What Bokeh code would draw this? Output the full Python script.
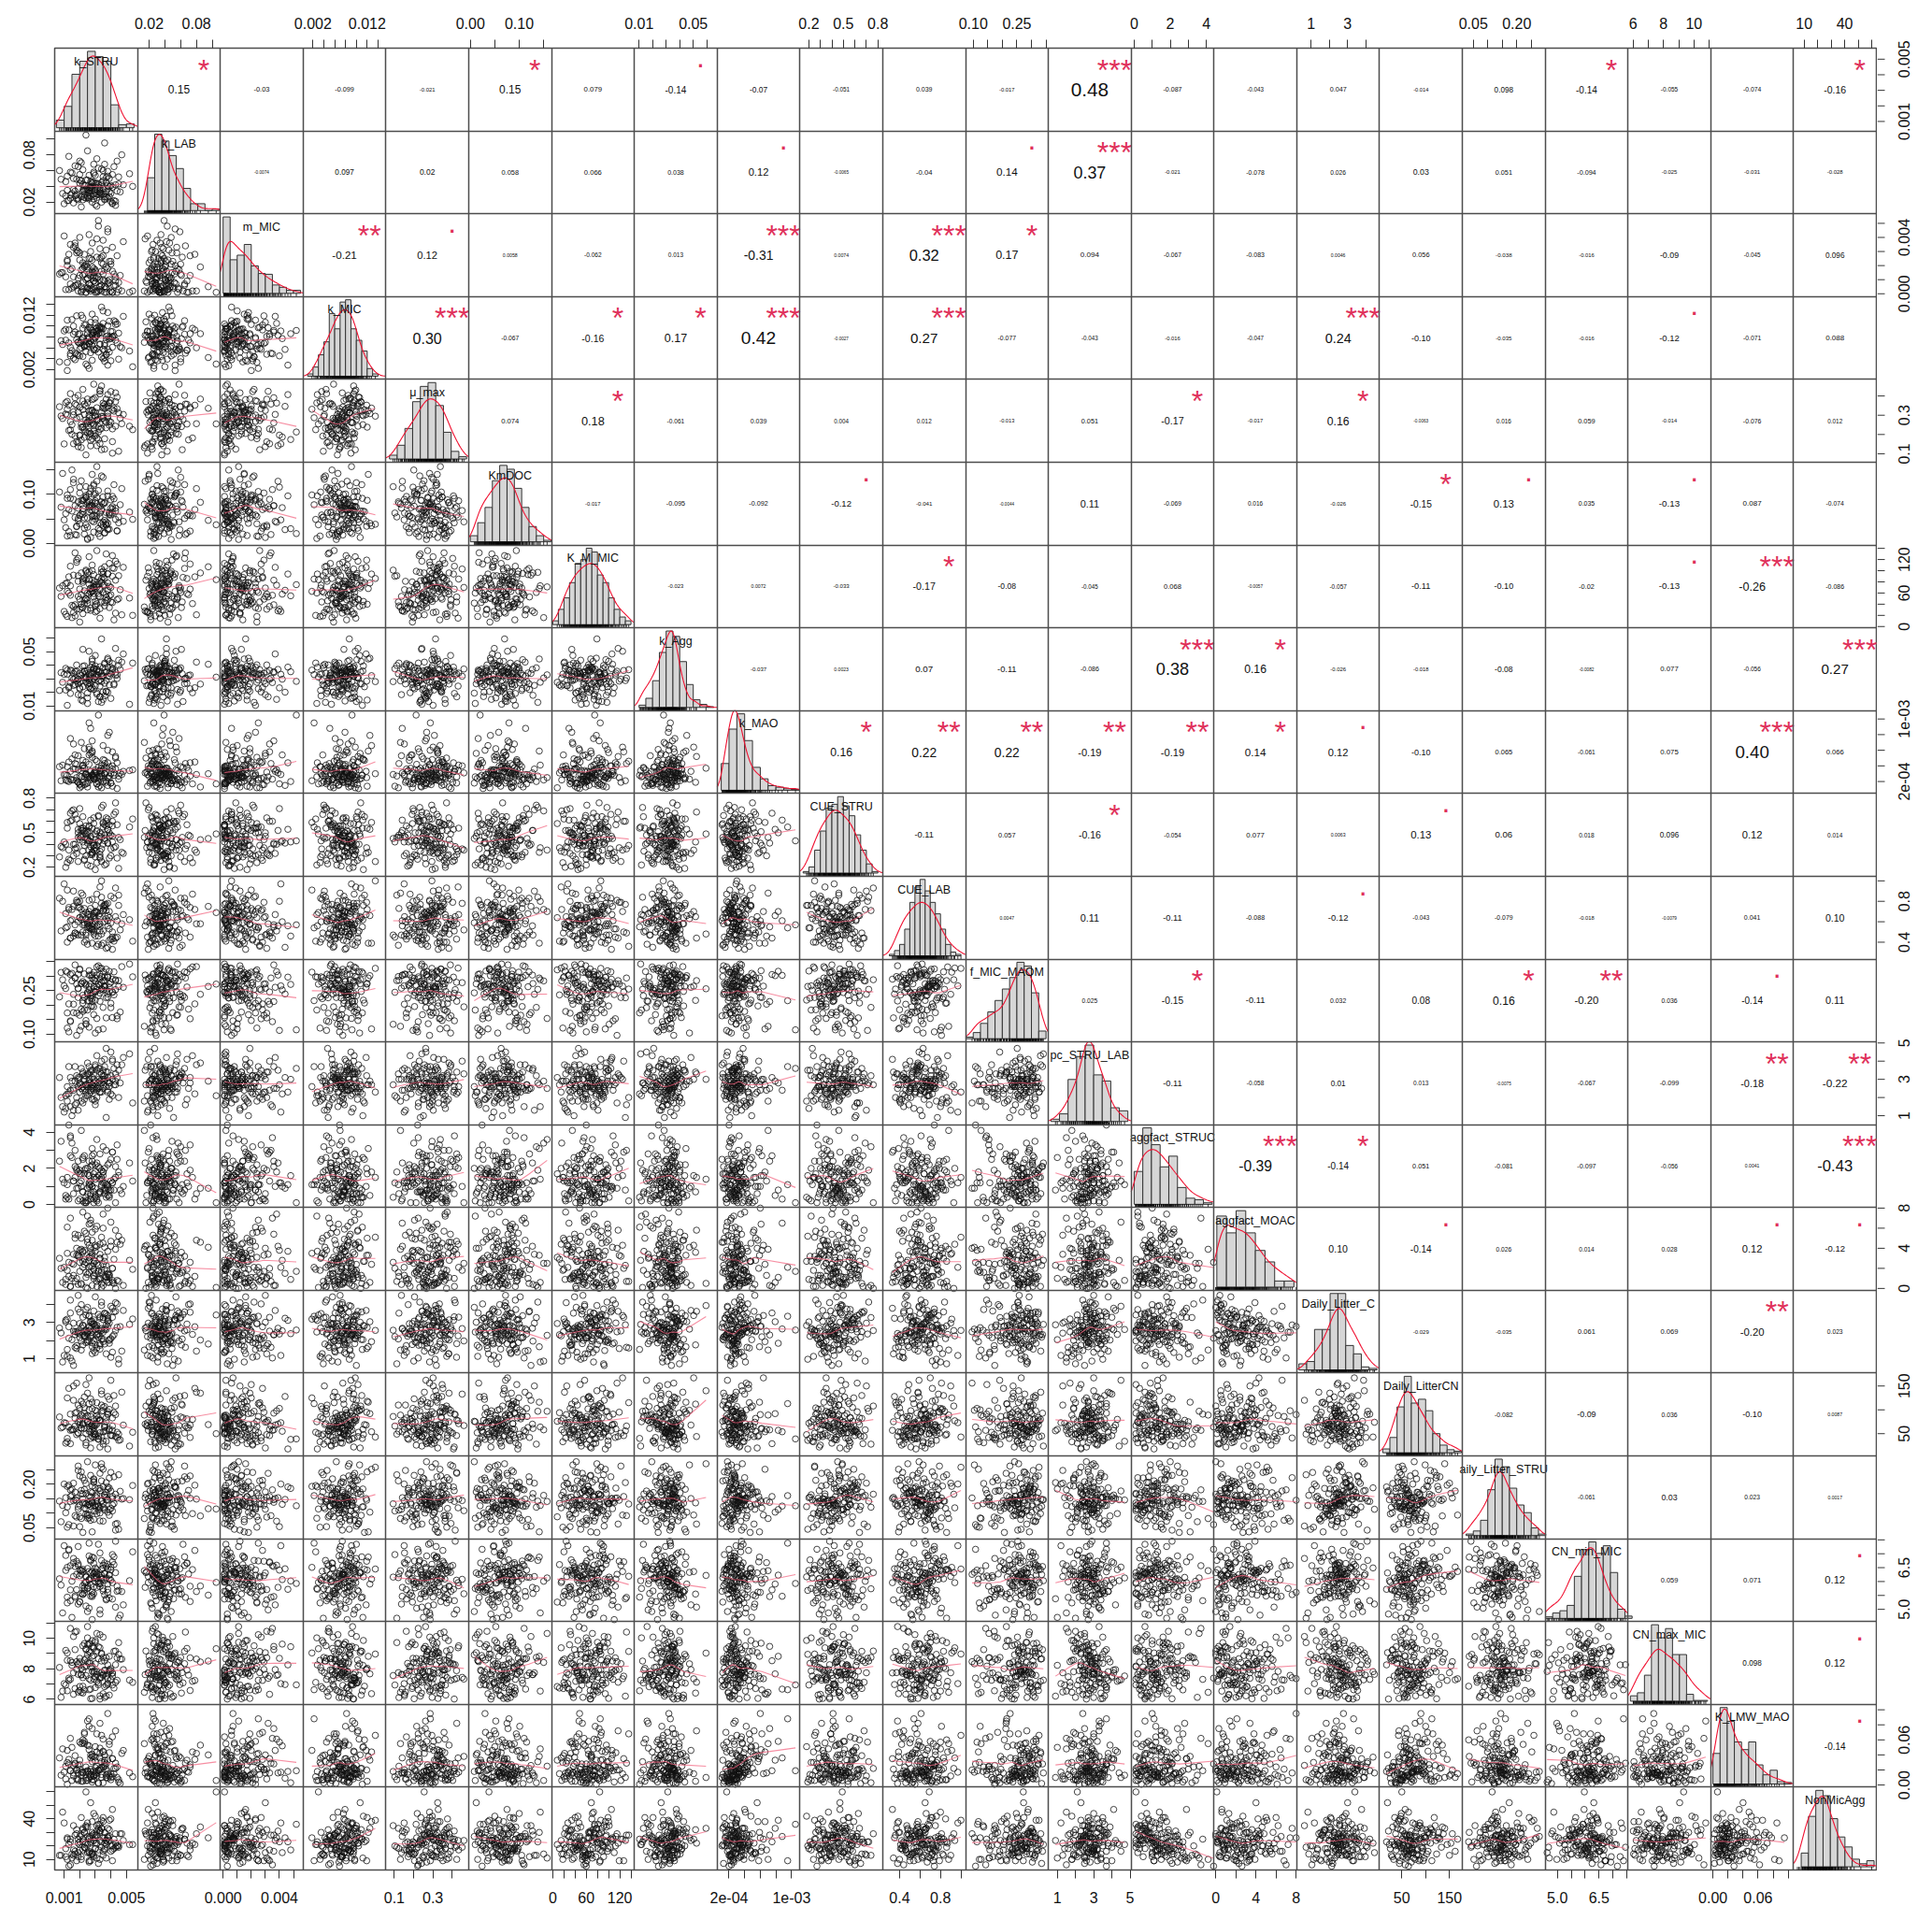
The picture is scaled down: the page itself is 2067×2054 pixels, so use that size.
import numpy as np
from bokeh.plotting import figure
from bokeh.layouts import row
from bokeh.models import Range1d, LinearAxis, FixedTicker, Grid, ColumnDataSource
from bokeh.core.properties import value
from bokeh.embed import file_html
from bokeh.resources import INLINE

NAMES = ["k_STRU","k_LAB","m_MIC","k_MIC","μ_max","KmDOC","K_M_MIC","k_Agg","k_MAO","CUE_STRU","CUE_LAB","f_MIC_MAOM",
         "pc_STRU_LAB","aggfact_STRUC","aggfact_MOAC","Daily_Litter_C","Daily_LitterCN","aily_Litter_STRU","CN_min_MIC","CN_max_MIC","K_LMW_MAO","NonMicAgg"]
# axis limits of each variable
LIMS = [(.00039,.00571),(.0053,.1102),(-.0002,.00568),(.00017,.01545),(.0563,.486),(-.0034,.166),(-2.3,146),(.0065,.0676),(.475e-4,11.07e-4),
        (.122,.842),(.235,1.045),(.0736,.358),(.506,5.06),(-.166,4.42),(-.186,8.06),(.206,4.77),(3.3,177),(.0123,.298),(4.56,7.54),(5.67,11.1),(-.0029,.1072),(2.15,63.5)]
TICKS = [[.001,.002,.003,.004,.005],[.02,.04,.06,.08,.10],[0,.001,.002,.003,.004,.005],[.002,.004,.006,.008,.010,.012,.014],[.1,.2,.3,.4],[0,.05,.10,.15],
         [0,20,40,60,80,100,120,140],[.01,.02,.03,.04,.05,.06],[2e-4,4e-4,6e-4,8e-4,1e-3],[.2,.3,.4,.5,.6,.7,.8],[.4,.6,.8,1.0],[.10,.15,.20,.25,.30,.35],
         [1,2,3,4,5],[0,1,2,3,4],[0,2,4,6,8],[1,2,3,4],[50,100,150],[.05,.10,.15,.20,.25],[5,5.5,6,6.5,7,7.5],[6,7,8,9,10,11],[0,.02,.04,.06,.08,.10],[10,20,30,40,50,60]]
TICKLABELS = [{.001:"0.001",.005:"0.005"},{.02:"0.02",.08:"0.08"},{0:"0.000",.004:"0.004"},{.002:"0.002",.012:"0.012"},{.1:"0.1",.3:"0.3"},{0:"0.00",.10:"0.10"},
              {0:"0",60:"60",120:"120"},{.01:"0.01",.05:"0.05"},{2e-4:"2e-04",1e-3:"1e-03"},{.2:"0.2",.5:"0.5",.8:"0.8"},{.4:"0.4",.8:"0.8"},{.10:"0.10",.25:"0.25"},
              {1:"1",3:"3",5:"5"},{0:"0",2:"2",4:"4"},{0:"0",4:"4",8:"8"},{1:"1",3:"3"},{50:"50",150:"150"},{.05:"0.05",.20:"0.20"},{5:"5.0",6.5:"6.5"},{6:"6",8:"8",10:"10"},{0:"0.00",.06:"0.06"},{10:"10",40:"40"}]
# histogram: first break, bin width, bar heights (share of the tallest bar)
H_START = [.0005,.018,0,.001,.075,0,0,.01,1e-4,.15,.3,.075,.65,0,.1,.325,10,.025,4.57,5.83,0,7.8]
H_WIDTH = [.0005,.0091,.0005,.001,.04,.015,10,.005,1e-4,.05,.05,.025,.47,.48,.96,.43,15,.025,.26,.46,.0095,5.4]
H_0 = [.1,.28,.7,.87,1,.93,.87,.3,.04,.05]
H_1 = [.43,1,.91,.72,.55,.29,.09,.09,0,.02]
H_2 = [1,.44,.5,.64,.36,.26,.25,.11,.08,.04,.04]
H_3 = [.03,.12,.28,.45,.82,.62,.97,1,.62,.47,.33,.1,.03]
H_4 = [.05,.18,.4,.75,.95,1,.7,.35,.1,.03]
H_5 = [.08,.25,.45,.8,1,.95,.7,.45,.2,.08,.02]
H_6 = [.05,.2,.35,.55,.8,.85,1,.95,.65,.55,.35,.2,.1,.05]
H_7 = [.03,.12,.35,.72,1,.93,.6,.3,.1,.04,.01]
H_8 = [.35,.8,1,.65,.3,.15,.06,.04,.02,.01]
H_9 = [.02,.08,.3,.55,.85,.9,1,.88,.75,.5,.3,.12,.02]
H_10 = [.02,.07,.15,.35,.7,.9,1,.85,.7,.55,.35,.15,.05,.02]
H_11 = [.02,.08,.2,.35,.5,.65,.8,1,.95,.6,.1]
H_12 = [.03,.1,.55,.85,1,.61,.53,.18,.14]
H_13 = [.43,1,.78,.49,.63,.22,.08,.06,.02]
H_14 = [.93,.71,1,.71,.48,.33,.08,.08]
H_15 = [.08,.11,.53,.53,1,1,.32,.21,.04,.02]
H_16 = [.05,.2,.6,1,.65,.7,.55,.25,.1,.04,.02]
H_17 = [.02,.06,.2,.6,1,.9,.62,.4,.3,.1,.02]
H_18 = [.02,.07,.1,.17,.55,.9,1,.85,.95,.6,.12,.03]
H_19 = [.07,.11,.34,1,.83,.95,.61,.61,.09,.01,.01]
H_20 = [.4,1,.82,.55,.45,.55,.25,.12,.18,.03,.02]
H_21 = [.18,.66,1,.93,.63,.39,.26,.1,.04,.08]
HISTS = [H_0,H_1,H_2,H_3,H_4,H_5,H_6,H_7,H_8,H_9,H_10,H_11,H_12,H_13,H_14,H_15,H_16,H_17,H_18,H_19,H_20,H_21]

# samples, each list in the unit given in UNITS
K_STRU = [27,35,18,42,23,31,12,38,26,29,21,44,33,16,28,37,24,30,9,41,25,34,19,47,22,32,14,39,27,36,20,43,28,31,11,35,23,40,17,29,33,26,45,24,15,38,30,22,34,8,27,41,19,36,25,13,32,48,21,29,37,16,28,42,24,33,18,30,39,26,10,35,22,44,31,20,27,38,14,34,25,40,17,29,52,23,36,28,12,32,43,21,30,19,37,26,33,7,41,24,35,15,28,39,22,31,46,18,27,34,13,38,25,30,20,43,29,36,16,23,32,40,26,11,35,21,28,37,17,33,24,45,30,14,27,39,22,34,19,31,54,25,36,12,29,41,20,33,26,38]
K_LAB = [38,52,24,65,30,44,22,41,35,58,27,72,36,19,46,33,48,28,31,55,26,62,37,80,23,43,29,50,34,68,
55,42,37,15,28,47,41,21,66,24,34,26,52,36,31,59,44,33,20,49,28,39,65,23,36,78,30,42,14,45,
27,50,35,22,105,38,29,54,40,32,18,60,43,34,26,72,46,37,25,31,48,41,28,30,56,35,24,44,53,39,
21,47,39,25,45,54,32,60,18,41,30,57,40,27,35,75,33,49,38,42,22,53,28,35,44,16,56,95,36,26,
63,31,24,46,37,70,20,51,34,29,25,43,17,58,39,33,61,45,23,30,40,85,27,35,68,19,48,32,38,25]
M_MIC = [2,14,31,6,19,1,24,9,42,3,17,27,5,12,36,1,21,8,15,33,4,26,11,2,18,48,7,23,13,1,29,6,16,39,3,10,20,2,34,13,5,25,8,1,18,44,11,3,22,15,30,1,7,17,4,28,12,37,2,9,19,5,24,14,1,32,6,16,10,3,41,21,8,1,26,13,4,18,35,2,11,23,6,15,1,28,9,3,20,52,12,5,17,2,31,7,25,14,1,10,38,4,19,8,22,2,13,29,6,16,3,46,11,1,24,9,18,5,33,14,2,21,7,12,27,1,15,4,36,10,20,3,8,17,25,1,13,6,30,11,2,19,5,23,9,16,40,3,14,7]
K_MIC = [72,95,48,110,63,84,33,101,77,58,120,69,88,41,92,75,53,106,66,81,27,98,71,60,115,86,45,79,94,55,68,103,37,83,74,128,62,90,50,76,99,22,87,65,112,57,80,96,43,73,107,61,85,35,78,93,52,118,70,89,47,100,64,82,30,97,75,56,109,67,91,40,79,104,59,86,72,125,49,95,63,77,38,88,54,102,68,83,18,92,74,60,113,46,81,98,66,34,90,71,105,55,84,76,44,96,62,119,51,87,69,28,93,78,58,108,73,42,85,65,100,36,80,94,57,74,122,48,89,67,103,39,83,61,97,52,77,135,70,91,25,86,64,111,56,79,45,95,68,82]
MU_MAX = [253,348,162,321,224,276,372,295,187,461,238,334,153,302,261,343,214,392,283,229,364,121,317,256,329,174,412,268,203,357,
291,243,381,142,306,337,185,264,358,219,431,287,312,94,251,346,193,374,232,296,325,163,403,272,208,352,241,304,132,385,
263,318,178,336,255,424,283,205,367,322,151,294,236,394,273,341,169,308,224,452,267,376,192,315,243,358,124,286,331,213,
416,254,297,158,383,301,227,344,103,276,363,201,327,248,434,182,285,352,141,314,221,407,262,293,194,371,246,336,152,304,
278,423,216,365,284,172,323,235,391,259,348,113,316,267,205,362,241,295,137,339,225,384,178,301,254,328,197,411,268,286]
KM_DOC = [68,95,34,120,52,81,15,107,73,44,88,25,62,131,77,39,98,56,143,70,10,85,47,112,65,30,92,58,76,21,103,49,83,127,61,36,90,72,18,100,54,79,42,116,66,28,87,59,138,74,12,96,51,84,33,69,108,45,80,23,63,124,55,91,38,75,17,102,60,86,48,135,71,26,94,57,78,41,110,67,8,89,53,118,64,31,82,46,99,20,72,128,50,85,37,76,14,105,62,93,43,150,68,29,87,56,79,35,113,70,24,97,52,83,40,66,121,47,90,19,74,58,101,32,81,60,141,44,77,27,95,54,69,16,106,63,88,39,72,157,49,84,22,92,57,75,115,42,65,30]
K_M_MIC = [62,88,31,104,47,75,18,95,58,70,40,112,66,25,83,52,99,36,73,127,60,44,91,21,79,55,108,34,68,86,49,117,63,28,77,94,41,57,132,71,15,85,50,101,38,65,80,23,97,54,69,43,122,74,30,89,59,106,35,76,46,92,64,12,84,53,115,39,72,98,27,61,82,48,136,67,33,78,56,103,42,70,19,93,51,87,37,110,63,75,24,96,45,81,58,125,32,69,90,50,74,16,100,55,85,41,66,119,29,79,60,94,47,72,8,83,53,107,36,64,88,44,76,22,99,57,68,130,39,81,49,91,26,73,61,113,34,86,54,71,20,96,43,78,59,105,31,67,84,48]
K_AGG = [228,317,402,263,355,186,334,441,297,372,143,328,389,251,346,206,308,472,274,361,118,337,295,423,241,352,192,316,383,267,
341,524,288,369,217,323,396,155,305,378,246,331,437,279,358,201,314,392,126,345,263,412,297,174,362,234,326,483,285,371,
208,339,403,254,312,167,356,294,428,241,333,381,136,302,367,226,348,452,272,319,194,385,258,343,112,309,416,236,364,281,
327,178,395,262,351,503,291,214,374,337,148,306,429,255,342,197,368,283,321,594,243,386,159,315,274,349,221,407,296,358,
132,336,268,377,203,324,446,287,353,169,311,398,248,364,226,342,517,279,183,329,416,261,347,104,302,375,233,356,288,320]
K_MAO = [33,48,21,28,62,17,39,25,54,31,14,44,27,36,72,19,30,23,41,58,26,12,35,29,47,20,33,83,24,38,16,52,28,31,22,66,37,18,43,26,34,95,23,29,49,15,32,40,27,21,56,36,19,30,25,45,13,33,70,28,38,22,51,31,17,26,42,35,24,61,29,20,37,11,46,27,33,79,23,40,18,30,54,25,34,16,43,28,21,105,36,26,48,19,32,64,24,39,14,29,35,22,57,27,41,17,31,25,88,37,20,44,28,33,12,50,23,30,68,26,38,18,42,29,24,34,59,21,36,15,45,27,32,75,22,39,19,30,53,25,35,13,47,28,23,40,17,33,26,60]
CUE_STRU = [45,58,32,66,39,51,24,62,43,35,54,28,47,70,41,56,30,49,37,60,22,46,53,33,64,42,26,50,38,57,44,68,31,52,40,59,27,48,36,63,34,55,19,45,61,41,29,52,72,38,47,56,25,43,50,35,65,32,46,58,23,40,54,37,49,31,62,44,28,51,42,74,34,57,39,47,21,53,60,36,45,30,66,41,55,26,48,33,59,43,38,52,18,46,63,35,50,29,42,56,40,69,32,47,54,24,44,37,61,49,27,53,41,34,58,76,39,45,30,51,64,36,43,20,55,48,33,60,40,28,52,46,37,67,31,57,42,25,50,35,62,44,22,54,39,47,71,29,56,41]
CUE_LAB = [62,75,48,83,57,69,40,78,60,52,72,45,65,90,55,71,42,63,80,50,67,37,74,58,86,46,61,70,53,77,64,44,82,56,68,39,73,59,49,66,94,54,76,47,62,35,70,57,84,51,65,43,79,60,55,72,38,67,88,48,63,75,52,41,69,58,81,46,64,56,97,71,50,61,36,74,54,66,44,78,59,85,49,68,62,40,73,53,91,57,65,47,76,60,34,70,55,83,45,63,51,72,58,42,67,87,52,79,61,48,74,56,38,69,64,93,50,75,46,59,66,43,81,54,71,62,39,77,57,68,49,86,60,44,73,53,65,100,47,70,41,58,76,55,64,33,80,51,67,61]
F_MIC_MAOM = [241,283,172,314,226,263,121,295,252,194,274,153,306,237,212,323,268,104,287,245,183,298,256,332,207,271,146,316,233,262,
165,284,222,303,257,118,276,191,293,248,327,215,264,134,309,238,282,178,254,312,273,157,226,297,243,204,335,261,127,286,
251,174,304,235,272,213,96,292,247,318,266,192,281,163,255,324,224,301,143,277,242,206,294,263,341,184,285,236,313,115,
253,274,217,306,156,265,291,228,244,136,315,283,197,262,234,331,176,272,302,256,108,296,214,245,321,287,167,264,203,307,
232,278,124,317,252,186,293,225,338,268,147,284,246,305,195,273,216,326,258,154,297,237,266,173,312,289,113,241,303,227]
PC_STRU_LAB = [28,30,20,36,30,24,18,34,22,33,27,31,36,13,25,26,32,29,15,40,21,33,26,38,17,30,24,28,34,41,
23,33,19,35,21,27,25,45,16,30,23,37,35,27,10,31,26,33,28,20,23,30,31,37,27,22,25,42,18,28,
47,25,31,27,21,34,17,38,26,29,12,32,24,38,20,28,35,29,15,40,26,32,29,24,44,19,30,27,26,36,
29,36,18,13,34,30,23,31,21,27,25,29,35,19,26,43,28,32,24,30,37,23,33,16,31,27,25,29,24,32,
28,22,33,14,35,25,27,9,37,29,23,20,37,31,26,28,34,23,30,25,17,39,32,22,19,41,27,26,28,24]
AGG_STRUC = [5,12,19,8,27,3,15,22,10,1,17,33,7,13,24,4,20,9,14,29,2,11,18,6,25,16,38,8,21,12,3,15,10,23,5,18,1,13,30,7,20,11,16,4,26,9,14,2,19,35,6,12,24,8,17,3,21,10,41,15,11,6,22,14,1,28,9,18,4,16,12,32,7,25,2,19,13,5,37,10,20,8,15,3,23,17,6,27,11,1,21,13,4,9,30,16,7,24,12,2,18,34,10,5,26,15,8,20,3,14,44,11,6,22,17,1,28,9,13,19,6,25,12,3,16,10,31,8,21,14,1,18,5,27,11,23,7,15,2,36,13,9,20,4,17,29,12,6,24,10]
AGG_MOAC = [22,45,10,5,38,62,18,14,28,25,50,8,30,34,3,12,55,41,6,20,72,16,33,48,27,9,2,11,36,19,
17,58,35,42,4,24,29,66,7,13,44,21,52,26,10,15,37,76,1,20,40,8,32,31,49,12,23,3,39,28,
8,24,56,29,1,34,40,15,13,64,21,3,37,46,7,26,32,6,70,18,0,42,50,10,28,57,12,22,35,17,
39,4,27,53,11,43,9,30,20,16,74,25,48,6,21,2,44,33,65,5,26,37,14,59,31,0,19,41,13,24,
18,47,16,9,60,5,33,23,54,30,11,7,43,2,68,14,36,51,4,25,19,46,27,61,12,6,38,10,31,80]
LITTER_C = [243,316,172,358,221,284,113,337,254,198,272,402,153,296,231,346,189,263,82,328,247,209,374,142,281,238,423,185,307,259,
216,361,128,268,312,194,251,389,163,292,226,334,97,257,205,323,178,286,412,242,301,136,253,349,192,276,219,366,148,314,
261,63,293,232,341,183,248,441,206,279,118,327,237,273,159,356,224,304,104,266,383,211,249,145,289,228,351,187,318,258,
409,197,283,241,127,338,174,269,222,371,246,87,306,201,329,234,277,156,264,393,213,311,239,134,294,255,363,181,252,227,
344,108,271,303,207,398,166,287,233,324,243,72,275,352,215,297,176,256,449,229,319,203,267,151,291,378,236,331,199,278]
LITTER_CN = [72,105,48,130,61,88,33,96,55,67,118,42,79,150,58,84,26,99,64,46,75,110,52,137,69,38,91,57,123,63,81,44,102,70,30,54,93,162,66,49,77,113,36,86,59,128,71,41,97,62,20,83,51,107,74,145,45,68,89,56,34,120,65,94,50,78,156,43,101,60,73,28,87,53,115,68,40,92,57,133,76,47,82,63,24,104,55,70,125,39,90,61,48,110,75,167,52,85,66,31,98,58,44,122,71,80,37,95,54,140,64,18,88,50,76,108,42,69,59,127,83,46,100,72,35,62,116,56,93,78,153,49,67,29,86,60,112,43,74,97,53,135,65,40,81,57,103,22,70,90]
LITTER_STRUC = [143,192,87,226,118,164,52,183,131,109,243,152,74,204,138,172,98,267,127,158,83,212,122,149,34,186,141,113,231,163,
128,63,194,154,102,252,136,177,92,207,119,161,45,133,184,148,107,223,142,71,174,129,263,157,96,197,124,151,82,216,
146,56,171,134,115,238,153,188,93,139,201,121,167,65,132,229,156,104,181,144,278,117,173,79,147,214,111,137,193,126,
42,168,123,248,155,94,186,142,108,203,73,162,135,222,149,99,176,145,125,271,61,191,128,159,88,166,209,116,143,182,
112,241,84,154,133,179,36,206,147,101,169,233,127,158,76,187,136,259,114,141,196,91,164,122,219,151,54,178,130,145]
CN_MIN = [612,648,571,689,594,627,523,662,607,556,641,583,703,618,546,655,598,633,487,671,575,614,726,564,644,602,531,623,589,667,
621,508,637,579,694,609,559,652,543,629,596,738,568,616,471,646,611,553,676,587,631,537,658,604,577,712,625,516,639,581,
613,683,552,661,597,498,626,649,541,606,729,574,634,565,619,528,678,591,657,608,492,642,548,685,603,569,628,463,651,593,
745,557,617,664,534,636,582,610,697,512,659,601,562,624,585,643,479,673,547,622,716,572,647,599,526,632,615,551,668,578,
734,605,504,640,566,627,688,538,654,592,620,468,635,570,674,609,555,645,519,613,707,584,630,544,665,596,641,483,692,561]
CN_MAX = [812,763,1046,915,662,783,856,706,962,733,804,872,623,774,947,692,868,833,654,752,1003,775,826,864,686,945,731,882,604,792,
845,712,985,762,921,637,813,728,1041,784,938,663,895,756,823,697,974,742,851,613,906,771,834,683,958,724,866,795,646,887,
753,1012,816,674,932,738,847,781,628,968,703,875,792,725,914,658,836,767,1065,744,892,801,671,943,726,858,612,783,904,695,
827,762,986,648,873,735,1024,809,694,926,757,842,606,781,951,718,864,796,667,903,739,826,1077,748,684,917,773,851,633,965,
708,788,839,694,1008,759,882,621,926,745,818,972,677,853,726,793,641,897,764,1032,711,845,786,656,934,773,869,602,913,736]
K_LMW = [18,45,8,22,68,12,30,15,52,38,5,24,20,12,75,28,9,17,48,35,6,14,26,42,60,3,19,58,11,33,
21,72,7,16,25,44,55,10,29,13,36,88,4,18,50,9,23,16,31,13,40,64,6,27,19,34,2,46,55,12,
13,26,41,15,6,82,20,37,12,47,17,3,56,10,68,27,14,33,62,23,18,7,39,12,16,70,25,4,46,19,
29,13,51,8,21,15,42,36,11,24,61,6,31,54,17,44,2,20,36,10,28,18,85,14,33,22,7,40,16,58,
20,15,78,8,24,17,38,10,28,49,14,7,32,19,21,43,5,66,16,25,11,53,30,1,18,35,57,22,9,95]
NONMIC = [22,16,32,25,19,35,10,27,15,24,41,20,30,13,28,24,18,26,45,9,21,33,12,29,23,17,25,39,14,22,
27,22,14,31,12,38,19,16,28,44,24,9,20,35,11,26,18,33,23,13,52,17,25,30,15,21,7,24,10,29,
21,35,14,18,60,10,29,22,32,16,37,13,25,20,28,17,23,33,6,19,27,40,14,24,21,30,18,15,26,36,
19,28,42,22,11,25,31,13,20,34,26,14,38,24,17,22,29,9,27,33,5,23,37,18,21,29,12,26,17,30,
33,20,26,18,41,12,30,24,16,36,22,19,28,23,9,27,32,39,15,11,21,34,17,25,13,47,23,31,8,26]
SAMPLES = [K_STRU,K_LAB,M_MIC,K_MIC,MU_MAX,KM_DOC,K_M_MIC,K_AGG,K_MAO,CUE_STRU,CUE_LAB,F_MIC_MAOM,PC_STRU_LAB,AGG_STRUC,AGG_MOAC,LITTER_C,LITTER_CN,LITTER_STRUC,CN_MIN,CN_MAX,K_LMW,NONMIC]
UNITS = [1e-4,1e-3,1e-4,1e-4,.001,.001,1,1e-4,1e-5,.01,.01,.001,.1,.1,.1,.01,1,.001,.01,.01,.001,1]

# printed correlations, upper triangle by row, starting right of the diagonal
CORR = [
["0.15","-0.03","-0.099","-0.021","0.15","0.079","-0.14","-0.07","-0.051","0.039","-0.017","0.48","-0.087","-0.043","0.047","-0.014","0.098","-0.14","-0.055","-0.074","-0.16"],
["-0.0074","0.097","0.02","0.058","0.066","0.038","0.12","-0.0065","-0.04","0.14","0.37","-0.021","-0.078","0.026","0.03","0.051","-0.094","-0.025","-0.031","-0.028"],
["-0.21","0.12","0.0058","-0.062","0.013","-0.31","0.0074","0.32","0.17","0.094","-0.067","-0.083","0.0046","0.056","-0.038","-0.016","-0.09","-0.045","0.096"],
["0.30","-0.067","-0.16","0.17","0.42","-0.0027","0.27","-0.077","-0.043","-0.016","-0.047","0.24","-0.10","-0.035","-0.016","-0.12","-0.071","0.088"],
["0.074","0.18","-0.061","0.039","0.004","0.012","-0.013","0.051","-0.17","-0.017","0.16","-0.0063","0.016","0.059","-0.014","-0.076","0.012"],
["-0.017","-0.095","-0.092","-0.12","-0.041","-0.0044","0.11","-0.069","0.016","-0.026","-0.15","0.13","0.035","-0.13","0.087","-0.074"],
["-0.023","0.0072","-0.033","-0.17","-0.08","-0.045","0.068","-0.0057","-0.057","-0.11","-0.10","-0.02","-0.13","-0.26","-0.086"],
["-0.037","0.0023","0.07","-0.11","-0.086","0.38","0.16","-0.026","-0.018","-0.08","-0.0082","0.077","-0.056","0.27"],
["0.16","0.22","0.22","-0.19","-0.19","0.14","0.12","-0.10","0.065","-0.061","0.075","0.40","0.066"],
["-0.11","0.057","-0.16","-0.054","0.077","0.0063","0.13","0.06","0.018","0.096","0.12","0.014"],
["0.0047","0.11","-0.11","-0.088","-0.12","-0.043","-0.079","-0.018","-0.0079","0.041","0.10"],
["0.025","-0.15","-0.11","0.032","0.08","0.16","-0.20","0.036","-0.14","0.11"],
["-0.11","-0.058","0.01","0.013","-0.0075","-0.067","-0.099","-0.18","-0.22"],
["-0.39","-0.14","0.051","-0.081","-0.097","-0.056","0.0041","-0.43"],
["0.10","-0.14","0.026","0.014","0.028","0.12","-0.12"],
["-0.029","-0.035","0.061","0.069","-0.20","0.023"],
["-0.082","-0.09","0.036","-0.10","0.0087"],
["-0.061","0.03","0.023","0.0017"],
["0.059","0.071","0.12"],
["0.098","0.12"],
["-0.14"],
]
SIG = {0:{1:"*",5:"*",7:".",12:"***",18:"*",21:"*"},1:{8:".",11:".",12:"***"},2:{3:"**",4:".",8:"***",10:"***",11:"*"},
       3:{4:"***",6:"*",7:"*",8:"***",10:"***",15:"***",19:"."},4:{6:"*",13:"*",15:"*"},5:{9:".",16:"*",17:".",19:"."},
       6:{10:"*",19:".",20:"***"},7:{13:"***",14:"*",21:"***"},8:{9:"*",10:"**",11:"**",12:"**",13:"**",14:"*",15:".",20:"***"},
       9:{12:"*",16:"."},10:{15:"."},11:{13:"*",17:"*",18:"**",20:"."},12:{20:"**",21:"**"},13:{14:"***",15:"*",21:"***"},
       14:{16:".",20:".",21:"."},15:{20:"**"},18:{21:"."},19:{21:"."},20:{21:"."}}

N = len(NAMES)
FONT = "Liberation Sans"
data = [np.array(s, float) * u for s, u in zip(SAMPLES, UNITS)]

p = figure(width=2008, height=2046, output_backend="svg", toolbar_location=None,
           x_range=Range1d(0, N), y_range=Range1d(0, N),
           min_border_left=58, min_border_right=1, min_border_top=51, min_border_bottom=46,
           outline_line_color="#4d4d4d", outline_line_width=1.5, background_fill_color="white", x_axis_location=None, y_axis_location=None)
p.xgrid.visible = False
p.ygrid.visible = False

H_PAD = 0.0417
H_SPAN = 1 + 2 * H_PAD
for k, (lo, hi) in enumerate(LIMS):
    span = hi - lo
    p.extra_x_ranges[f"x{k}"] = Range1d(lo - k * span, lo + (N - k) * span)
    row_from_bottom = N - 1 - k
    p.extra_y_ranges[f"y{k}"] = Range1d(lo - row_from_bottom * span, lo + (k + 1) * span)
    start = -H_PAD - row_from_bottom * H_SPAN
    p.extra_y_ranges[f"h{k}"] = Range1d(start, start + N * H_SPAN)

def lowess(x, y, f=2/3, m=15):
    order = np.argsort(x)
    xs, ys = x[order], y[order]
    r = max(int(f * len(xs)), 3)
    idx = np.unique(np.linspace(0, len(xs) - 1, m).astype(int))
    out = []
    for i in idx:
        d = np.abs(xs - xs[i])
        h = np.sort(d)[r]
        w = np.clip(1 - (d / h) ** 3, 0, 1) ** 3
        sw = w.sum()
        mx, my = (w * xs).sum() / sw, (w * ys).sum() / sw
        den = (w * (xs - mx) ** 2).sum()
        b = (w * (xs - mx) * (ys - my)).sum() / den if den > 0 else 0
        out.append(my + b * (xs[i] - mx))
    return xs[idx], np.array(out)

# lower triangle: scatter and smooth
for i in range(N):
    for j in range(i):
        n = min(len(data[i]), len(data[j]))
        xv, yv = data[j][:n], data[i][:n]
        p.scatter(xv, yv, size=6.6, marker="circle", fill_alpha=0, line_color="#111111", line_alpha=0.78, line_width=1,
                  x_range_name=f"x{j}", y_range_name=f"y{i}")
        lx, ly = lowess(xv, yv)
        p.line(lx, ly, line_color="#f2607c", line_alpha=0.7, line_width=1.1, x_range_name=f"x{j}", y_range_name=f"y{i}")

# diagonal: histogram, density, rug
for k in range(N):
    h = np.array(HISTS[k], float)
    w = H_WIDTH[k]
    left = H_START[k] + w * np.arange(len(h))
    p.quad(left=left, right=left + w, bottom=0, top=h, fill_color="#d6d6d6", line_color="#333333", line_width=1,
           x_range_name=f"x{k}", y_range_name=f"h{k}")
    v = data[k]
    lo, hi = LIMS[k]
    iqr = np.subtract(*np.percentile(v, [75, 25]))
    bw = 0.9 * min(v.std(ddof=1), iqr / 1.34) * len(v) ** -0.2
    gx = np.array([lo + (hi - lo) * t / 90 for t in range(91)])
    dens = np.exp(-0.5 * ((gx[:, None] - v[None, :]) / bw) ** 2).sum(axis=1) / (len(v) * bw * np.sqrt(2 * np.pi))
    dy = np.minimum(dens * h.sum() * w, 1 + H_PAD)
    keep = gx >= v.min() - 3 * bw
    keep &= gx <= v.max() + 3 * bw
    p.line(gx[keep], dy[keep], line_color="#f01030", line_width=1.1, x_range_name=f"x{k}", y_range_name=f"h{k}")
    p.segment(x0=v, x1=v, y0=-H_PAD, y1=0, line_color="black", line_width=0.8, x_range_name=f"x{k}", y_range_name=f"h{k}")

# grid of panel borders
for dim in (0, 1):
    p.add_layout(Grid(dimension=dim, ticker=FixedTicker(ticks=list(range(N + 1))), grid_line_color="#4d4d4d",
                      grid_line_width=1.5, level="overlay"))

def text_width_em(t):
    w = 0
    for c in t:
        w += {"-": .333, ".": .278}.get(c, .556)
    return w

# upper triangle: coefficients and stars
cx, cy, ct, cf = [], [], [], []
sx, sy, st = [], [], []
dx, dy_ = [], []
for i, row_vals in enumerate(CORR):
    for off, t in enumerate(row_vals):
        j = i + 1 + off
        cx.append(j + .5); cy.append(N - 1 - i + .5); ct.append(t)
        px_w = 15.5 + 52 * abs(float(t))
        cf.append(f"{px_w / text_width_em(t):.1f}px")
        sym = SIG.get(i, {}).get(j)
        if sym == ".":
            dx.append(j + .8); dy_.append(N - 1 - i + .79)
        elif sym:
            sx.append(j + .8); sy.append(N - 1 - i + .79); st.append(sym)
corr_src = ColumnDataSource(dict(x=cx, y=cy, t=ct, fs=cf))
p.text("x", "y", text="t", source=corr_src, text_font=value(FONT), text_font_size="fs", text_align="center",
       text_baseline="middle", text_color="#111111")
p.text(sx, sy, text=st, text_font=value(FONT), text_font_size="32px", text_align="center", text_baseline="alphabetic",
       y_offset=4.5, text_color="#e0305a")
p.text(dx, dy_, text=["."] * len(dx), text_font=value(FONT), text_font_size="32px", text_align="center", text_baseline="alphabetic",
       y_offset=-9.5, text_color="#e0305a")

# variable names on the diagonal
p.text([k + .5 for k in range(N)], [N - 1 - k + .84 for k in range(N)], text=NAMES, text_font=value(FONT), text_font_size="12.5px",
       text_align="center", text_baseline="middle", text_color="#111111")

def axis_positions(cols, vertical):
    ticks, over = [], {}
    for c in cols:
        lo, hi = LIMS[c]
        base = (N - 1 - c) if vertical else c
        for t in TICKS[c]:
            pos = round((t - lo) / (hi - lo) + base, 6)
            ticks.append(pos)
            over[pos] = TICKLABELS[c].get(t, "")
    return ticks, over

def make_axis(cols, side, vertical, standoff):
    ticks, over = axis_positions(cols, vertical)
    ax = LinearAxis(ticker=FixedTicker(ticks=ticks), major_label_overrides=over, axis_line_color=None,
                    major_tick_out=9, major_tick_in=0, minor_tick_out=0, minor_tick_in=0, major_tick_line_color="#333333",
                    major_label_text_font=FONT, major_label_text_font_size="16px", major_label_text_color="#111111",
                    major_label_standoff=standoff, major_label_orientation="vertical" if vertical else "horizontal")
    p.add_layout(ax, side)

odd = [c for c in range(N) if c % 2 == 1]
even = [c for c in range(N) if c % 2 == 0]
make_axis(odd, "above", False, 12)
make_axis(even, "below", False, 14)
make_axis(odd, "left", True, 12)

# right-hand axis strip: its labels read bottom to top, as on the left
# its plot area runs the full height, on the same scale as the main panels
FRAME_PX = 2046 - 51 - 46
per_px = N / FRAME_PX
q = figure(width=51, height=2046, output_backend="svg", toolbar_location=None,
           x_range=Range1d(0, 51), y_range=Range1d(-46 * per_px, N + 51 * per_px), outline_line_color=None,
           min_border_left=0, min_border_right=0, min_border_top=0, min_border_bottom=0,
           x_axis_location=None, y_axis_location=None, frame_align=False)
q.xgrid.visible = False
q.ygrid.visible = False
r_ticks, r_over = axis_positions(even, True)
q.segment(x0=[0] * len(r_ticks), x1=[8] * len(r_ticks), y0=r_ticks, y1=r_ticks, line_color="#333333", line_width=1)
r_pos = [t for t in r_ticks if r_over[t]]
q.text([28] * len(r_pos), r_pos, text=[r_over[t] for t in r_pos], angle=np.pi / 2, text_font=value(FONT), text_font_size="16px",
       text_align="center", text_baseline="middle", text_color="#111111")

open("out.html", "w").write(file_html(row(p, q), INLINE))
